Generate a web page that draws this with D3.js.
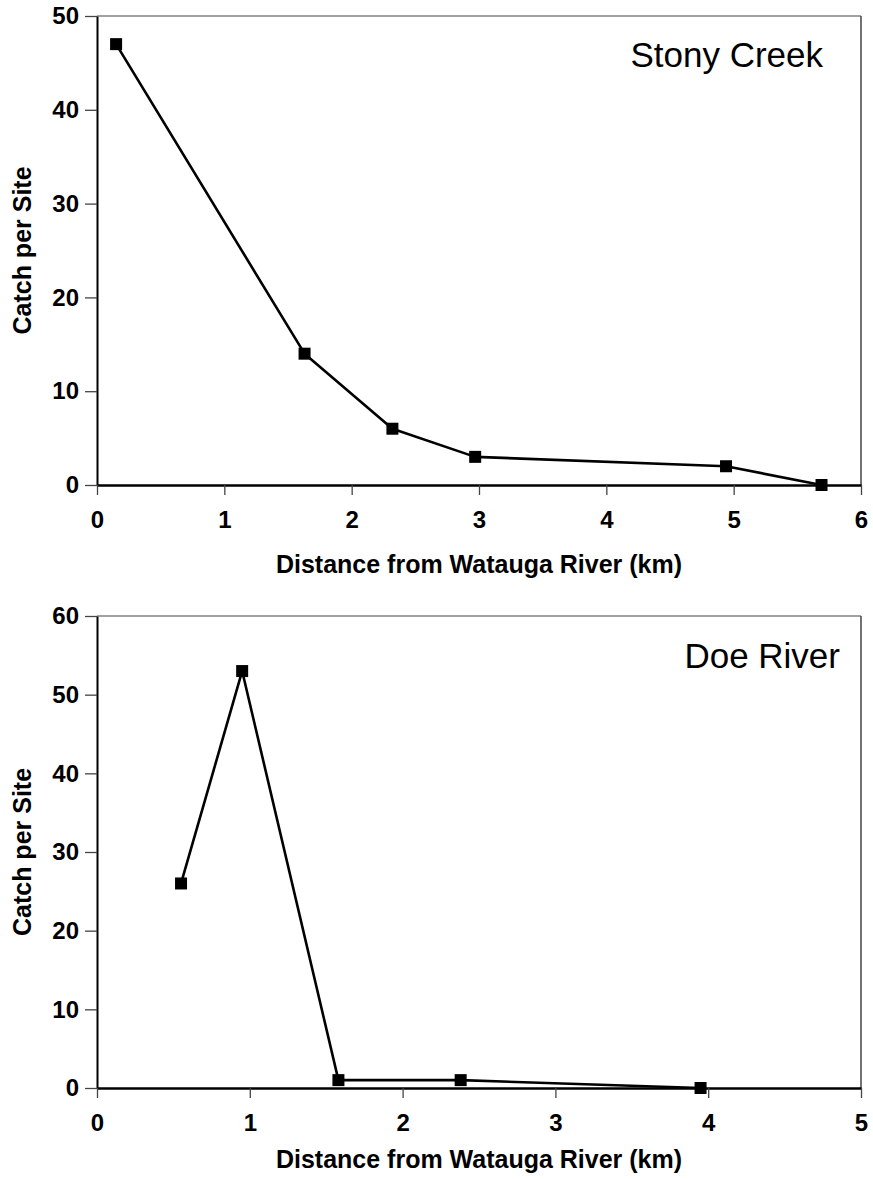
<!DOCTYPE html>
<html>
<head>
<meta charset="utf-8">
<script src="https://cdn.jsdelivr.net/npm/d3@7"></script>
<style>
  body { margin: 0; background: #fff; }
  svg text { font-family: Arial, "Liberation Sans", sans-serif; }
</style>
</head>
<body>
<div id="wrapper"></div>
<script>
// Stony Creek
const stonyDistance = [0.15, 1.63, 2.32, 2.97, 4.94, 5.69];
const stonyCatch = [47, 14, 6, 3, 2, 0];
const stonyXTicks = [0, 1, 2, 3, 4, 5, 6];
const stonyYTicks = [0, 10, 20, 30, 40, 50];

// Doe River
const doeDistance = [0.55, 0.95, 1.58, 2.38, 3.95];
const doeCatch = [26, 53, 1, 1, 0];
const doeXTicks = [0, 1, 2, 3, 4, 5];
const doeYTicks = [0, 10, 20, 30, 40, 50, 60];

const xTitle = "Distance from Watauga River (km)";
const yTitle = "Catch per Site";

const svg = d3.select("#wrapper")
    .append("svg")
        .attr("width", 873)
        .attr("height", 1179);

/**
 * Draw one panel: frame, axes, line with square markers and the site name.
 */
function drawPanel(opts) {
    const { xs, ys, xTicks, yTicks, name, left, right, top, bottom, nameX, nameY, titleY } = opts;

    const xScale = d3.scaleLinear()
        .domain([0, d3.max(xTicks)])
        .range([left, right]);
    const yScale = d3.scaleLinear()
        .domain([0, d3.max(yTicks)])
        .range([bottom, top]);

    const g = svg.append("g");

    // top and right frame lines (thin grey)
    g.append("line")
        .attr("x1", left).attr("x2", right)
        .attr("y1", top).attr("y2", top)
        .attr("stroke", "#444").attr("stroke-width", 1.2);
    g.append("line")
        .attr("x1", right).attr("x2", right)
        .attr("y1", top).attr("y2", bottom)
        .attr("stroke", "#444").attr("stroke-width", 1.5);

    // y axis
    const yAxis = g.append("g")
        .attr("transform", `translate(${left},0)`)
        .call(d3.axisLeft(yScale).tickValues(yTicks).tickFormat(d3.format("d"))
            .tickSize(12).tickSizeOuter(0).tickPadding(6));
    yAxis.select(".domain").attr("stroke", "#000").attr("stroke-width", 2);
    yAxis.selectAll(".tick line").attr("stroke", "#444").attr("stroke-width", 1.3);
    yAxis.selectAll(".tick text")
        .attr("fill", "#000")
        .style("font-size", "24px")
        .style("font-weight", "bold");

    // x axis
    const xAxis = g.append("g")
        .attr("transform", `translate(0,${bottom})`)
        .call(d3.axisBottom(xScale).tickValues(xTicks).tickFormat(d3.format("d"))
            .tickSize(10).tickSizeOuter(0).tickPadding(16));
    xAxis.select(".domain").attr("stroke", "#000").attr("stroke-width", 2.5);
    xAxis.selectAll(".tick line").attr("stroke", "#444").attr("stroke-width", 1.3);
    xAxis.selectAll(".tick text")
        .attr("fill", "#000")
        .style("font-size", "24px")
        .style("font-weight", "bold");

    // axis titles
    g.append("text")
        .attr("x", (left + right) / 2)
        .attr("y", titleY)
        .attr("text-anchor", "middle")
        .style("font-size", "25px")
        .style("font-weight", "bold")
        .text(xTitle);
    g.append("text")
        .attr("transform", `translate(31,${(top + bottom) / 2}) rotate(-90)`)
        .attr("text-anchor", "middle")
        .style("font-size", "25px")
        .style("font-weight", "bold")
        .text(yTitle);

    // data line
    const points = xs.map((d, i) => [d, ys[i]]);
    const lineGenerator = d3.line()
        .x(d => xScale(d[0]))
        .y(d => yScale(d[1]));
    g.append("path")
        .attr("d", lineGenerator(points))
        .attr("fill", "none")
        .attr("stroke", "#000")
        .attr("stroke-width", 2.6)
        .attr("stroke-linejoin", "round");

    // square markers
    const size = 12;
    g.selectAll("rect.marker")
        .data(points)
        .join("rect")
            .attr("class", "marker")
            .attr("x", d => xScale(d[0]) - size / 2)
            .attr("y", d => yScale(d[1]) - size / 2)
            .attr("width", size)
            .attr("height", size)
            .attr("fill", "#000");

    // site name
    g.append("text")
        .attr("x", nameX)
        .attr("y", nameY)
        .attr("text-anchor", "end")
        .style("font-size", "35px")
        .text(name);
}

drawPanel({
    xs: stonyDistance, ys: stonyCatch, xTicks: stonyXTicks, yTicks: stonyYTicks,
    name: "Stony Creek",
    left: 97, right: 861, top: 16, bottom: 485,
    nameX: 823, nameY: 67, titleY: 573
});

drawPanel({
    xs: doeDistance, ys: doeCatch, xTicks: doeXTicks, yTicks: doeYTicks,
    name: "Doe River",
    left: 97, right: 861, top: 616, bottom: 1088,
    nameX: 840, nameY: 668, titleY: 1168
});
</script>
</body>
</html>
